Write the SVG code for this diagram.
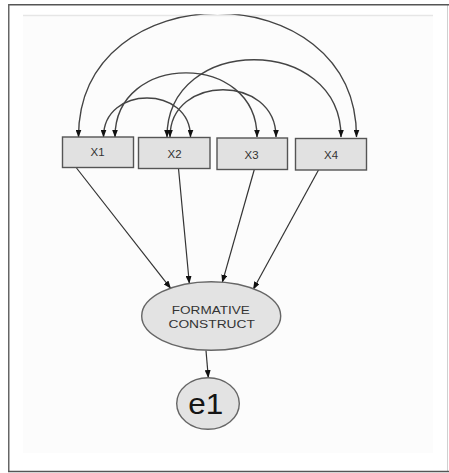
<svg xmlns="http://www.w3.org/2000/svg" width="449" height="473" viewBox="0 0 449 473">
<style>
.box{fill:#e1e1e1;stroke:#555;stroke-width:1.4}
.ell{fill:#e3e3e3;stroke:#666;stroke-width:1.4}
.lbl{font-family:"Liberation Sans",Arial,sans-serif;fill:#333;text-anchor:middle}
.con{fill:none;stroke:#333;stroke-width:1.3}
.arc{fill:none;stroke:#444;stroke-width:1.4;marker-start:url(#ah);marker-end:url(#ah)}
.dir{fill:none;stroke:#333;stroke-width:1.2;marker-end:url(#ah)}
</style>
<defs>
<marker id="ah" markerUnits="userSpaceOnUse" markerWidth="8" markerHeight="6" refX="7.5" refY="3" orient="auto-start-reverse" viewBox="0 0 8 6">
<path d="M0,0 L8,3 L0,6 Z" fill="#111"/>
</marker>
<clipPath id="panel"><rect x="0" y="14.3" width="449" height="459"/></clipPath>
</defs>
<rect x="0" y="0" width="449" height="473" fill="#ffffff"/>
<g id="frame">
<rect x="23" y="15" width="410" height="438" fill="#fcfcfc"/>
<line x1="23" y1="15.5" x2="433" y2="15.5" stroke="#e6e6e6" stroke-width="1.5"/>
<line x1="447.5" y1="4" x2="447.5" y2="472" stroke="#d0d0d0" stroke-width="1"/>
<line x1="8" y1="4.75" x2="449" y2="4.75" stroke="#555" stroke-width="1.5"/>
<line x1="8.75" y1="4" x2="8.75" y2="472" stroke="#666" stroke-width="1.5"/>
<line x1="8" y1="471.5" x2="449" y2="471.5" stroke="#555" stroke-width="1.5"/>
</g>
<g id="connectors">
<path class="arc" clip-path="url(#panel)" d="M78.5,137 C78.5,-27.8 356.5,-27.8 356.5,137"/>
<path class="arc" d="M167,137 C167,34 341,34 341,137"/>
<path class="arc" d="M115,137 C115,51.5 257,51.5 257,137"/>
<path class="arc" d="M170,137 C170,74 276,74 276,137"/>
<path class="arc" d="M103.5,137 C103.5,85 190.5,85 190.5,137"/>
<path class="dir" d="M76.5,168 L170.7,288.3"/>
<path class="dir" d="M178.5,168.5 L189.3,283.3"/>
<path class="dir" d="M254.3,169.5 L222.3,282.3"/>
<path class="dir" d="M318.5,170 L253.3,289.3"/>
<path class="dir" d="M206,350.5 L208.3,377.5"/>
</g>
<g id="X1">
<rect class="box" x="62.5" y="137" width="71" height="30.5"/>
<text class="lbl" x="97.5" y="156" font-size="10.5" textLength="14" lengthAdjust="spacingAndGlyphs">X1</text>
</g>
<g id="X2">
<rect class="box" x="138.5" y="137.5" width="71.5" height="31"/>
<text class="lbl" x="174.5" y="158" font-size="10.5" textLength="14" lengthAdjust="spacingAndGlyphs">X2</text>
</g>
<g id="X3">
<rect class="box" x="217" y="138" width="70.5" height="31.5"/>
<text class="lbl" x="251.5" y="158.5" font-size="10.5" textLength="14" lengthAdjust="spacingAndGlyphs">X3</text>
</g>
<g id="X4">
<rect class="box" x="295.5" y="138.5" width="71" height="31.5"/>
<text class="lbl" x="331" y="159" font-size="10.5" textLength="14" lengthAdjust="spacingAndGlyphs">X4</text>
</g>
<g id="formative">
<ellipse class="ell" cx="211.2" cy="316" rx="69.5" ry="34.3"/>
<text class="lbl" x="210.8" y="313.5" font-size="11.8" textLength="78" lengthAdjust="spacingAndGlyphs">FORMATIVE</text>
<text class="lbl" x="211.7" y="327.5" font-size="11.8" textLength="86.5" lengthAdjust="spacingAndGlyphs">CONSTRUCT</text>
</g>
<g id="e1">
<ellipse class="ell" cx="208" cy="403.5" rx="31.3" ry="25.8"/>
<text class="lbl" x="205.8" y="413.5" font-size="29" textLength="35" lengthAdjust="spacingAndGlyphs" style="fill:#151515">e1</text>
</g>
</svg>
